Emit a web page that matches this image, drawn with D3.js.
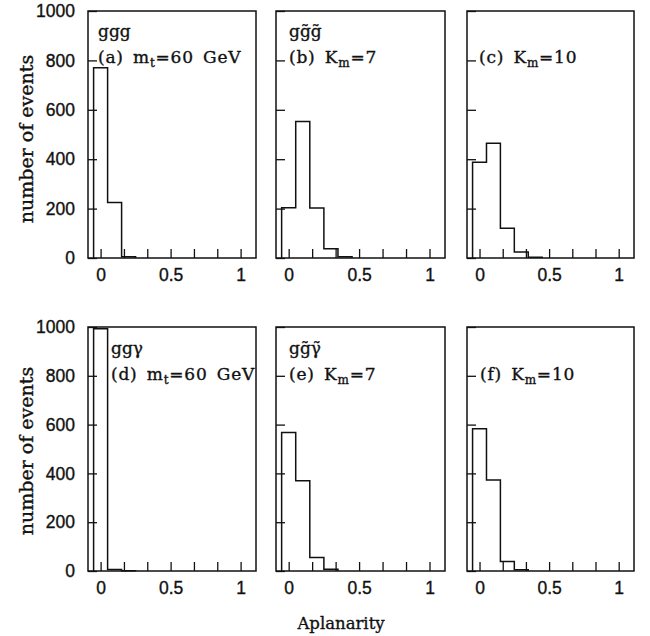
<!DOCTYPE html>
<html>
<head>
<meta charset="utf-8">
<script src="https://cdn.jsdelivr.net/npm/d3@7"></script>
<style>
  html, body { margin: 0; padding: 0; background: #fff; }
  svg { display: block; }
  .num { font-family: "Liberation Sans", Arial, sans-serif; font-size: 17.5px; fill: #111; stroke: #111; stroke-width: 0.35px; }
  .lab { font-family: "DejaVu Serif", serif; fill: #111; stroke: #111; stroke-width: 0.35px; }
</style>
</head>
<body>
<svg id="chart" width="650" height="636"></svg>
<script>
// Bin centres (aplanarity), bin width 0.1
const binCenters = [0, 0.1, 0.2, 0.3, 0.4];
const binWidth = 0.1;

// Event counts per bin for each panel
const countsA = [770, 225, 5];
const countsB = [203, 553, 202, 37, 5];
const countsC = [388, 465, 120, 24, 3];
const countsD = [993, 6, 1];
const countsE = [568, 370, 55, 7];
const countsF = [583, 373, 39, 5];

// Axis ticks and labels
const xTicks = [0, 1 / 6, 2 / 6, 3 / 6, 4 / 6, 5 / 6, 1];
const xTickLabels = { 0: "0", 0.5: "0.5", 1: "1" };
const yTicks = [0, 200, 400, 600, 800, 1000];
const xDomain = [-0.09, 1.11];
const yDomain = [0, 1000];

// Panel titles: process line and parameter line
const panels = [
  { id: "a", counts: countsA, proc: "ggg",              label: ["(a) m", "t", "=60 GeV"], row: 0, col: 0 },
  { id: "b", counts: countsB, proc: "gg\u0303g\u0303",   label: ["(b) K", "m", "=7"],      row: 0, col: 1 },
  { id: "c", counts: countsC, proc: "",                 label: ["(c) K", "m", "=10"],     row: 0, col: 2 },
  { id: "d", counts: countsD, proc: "gg\u03b3",          label: ["(d) m", "t", "=60 GeV"], row: 1, col: 0 },
  { id: "e", counts: countsE, proc: "gg\u0303\u03b3\u0303", label: ["(e) K", "m", "=7"],   row: 1, col: 1 },
  { id: "f", counts: countsF, proc: "",                 label: ["(f) K", "m", "=10"],     row: 1, col: 2 }
];

// Frame geometry
const rowBands = [[11, 258], [327, 571]];
const colBands = [[88, 256], [276, 445], [467, 634]];

const svg = d3.select("#chart");

panels.forEach(p => {
  const [x0, x1] = colBands[p.col];
  const [y0, y1] = rowBands[p.row];
  const x = d3.scaleLinear().domain(xDomain).range([x0, x1]);
  const y = d3.scaleLinear().domain(yDomain).range([y1, y0]);
  const g = svg.append("g");

  // y ticks (inward), labels only on the left column
  const yAxis = d3.axisLeft(y).tickValues(yTicks).tickSizeInner(-9).tickSizeOuter(0).tickPadding(13)
    .tickFormat(p.col === 0 ? d3.format("d") : () => "");
  const ya = g.append("g").attr("transform", `translate(${x0},0)`).call(yAxis);
  ya.select(".domain").remove();
  ya.selectAll("line").attr("stroke", "#111").attr("stroke-width", 1.3);
  ya.selectAll("text").attr("class", "num").attr("font-size", null).attr("font-family", null);

  // x ticks (inward) with labels at 0, 0.5, 1
  const xAxis = d3.axisBottom(x).tickValues(xTicks).tickSizeInner(-9).tickSizeOuter(0).tickPadding(11)
    .tickFormat(v => {
      const k = Object.keys(xTickLabels).find(t => Math.abs(+t - v) < 1e-6);
      return k !== undefined ? xTickLabels[k] : "";
    });
  const xa = g.append("g").attr("transform", `translate(0,${y1})`).call(xAxis);
  xa.select(".domain").remove();
  xa.selectAll("line").attr("stroke", "#111").attr("stroke-width", 1.3);
  xa.selectAll("text").attr("class", "num").attr("font-size", null).attr("font-family", null);

  // Histogram outline
  const edges = p.counts.map((_, i) => binCenters[i] - binWidth / 2);
  const lastEdge = binCenters[p.counts.length - 1] + binWidth / 2;
  let d = `M${x(edges[0])},${y(0)}`;
  p.counts.forEach((c, i) => {
    const right = i < p.counts.length - 1 ? edges[i + 1] : lastEdge;
    d += `V${y(c)}H${x(right)}`;
  });
  d += `V${y(0)}`;
  g.append("path").attr("d", d).attr("fill", "none").attr("stroke", "#111")
    .attr("stroke-width", 1.5).attr("stroke-linejoin", "miter");

  // Frame
  g.append("rect").attr("x", x0).attr("y", y0).attr("width", x1 - x0).attr("height", y1 - y0)
    .attr("fill", "none").attr("stroke", "#111").attr("stroke-width", 1.5);

  // Titles
  const tx = p.row === 0 ? (p.col === 0 ? x0 + 10 : p.col === 1 ? x0 + 13 : x0 + 12)
                         : (p.col === 0 ? x0 + 23 : x0 + 13);
  const by = p.row === 0 ? 63 : 380;
  if (p.proc) {
    g.append("text").attr("class", "lab").attr("x", tx).attr("y", by - 26)
      .attr("font-size", 17).text(p.proc);
  }
  const t = g.append("text").attr("class", "lab").attr("x", tx).attr("y", by)
    .attr("font-size", 17).attr("letter-spacing", 0.8).attr("word-spacing", 3);
  t.append("tspan").text(p.label[0]);
  t.append("tspan").attr("font-size", 12).attr("dy", 4).text(p.label[1]);
  t.append("tspan").attr("dy", -4).text(p.label[2]);
});

// Axis titles
[139, 451].forEach(cy => {
  svg.append("text").attr("class", "lab").attr("font-size", 19)
    .attr("text-anchor", "middle")
    .attr("transform", `translate(33,${cy}) rotate(-90)`)
    .text("number of events");
});
svg.append("text").attr("class", "lab").attr("font-size", 16.5)
  .attr("text-anchor", "middle").attr("x", 341).attr("y", 629)
  .text("Aplanarity");
</script>
</body>
</html>
